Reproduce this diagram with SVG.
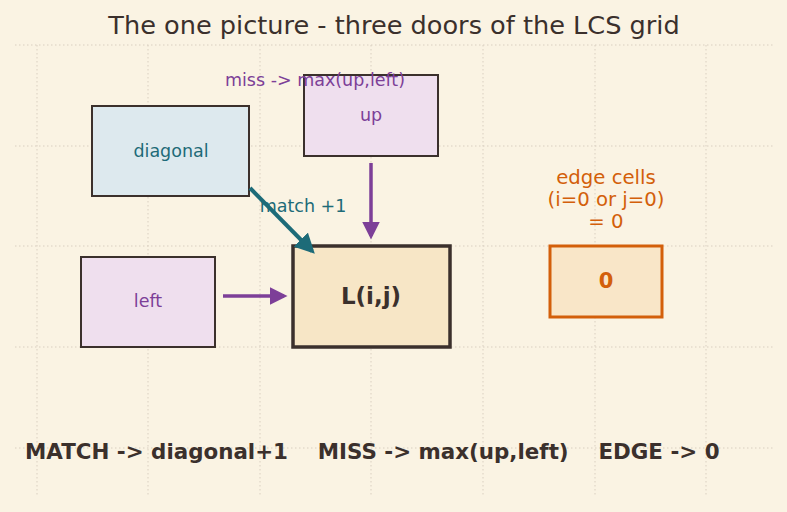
<svg xmlns="http://www.w3.org/2000/svg" width="787" height="512" viewBox="0 0 787 512">
<style>
text{font-family:"DejaVu Sans",sans-serif}
.grid line{stroke:#d9cfc0;stroke-width:1;stroke-dasharray:1.5 2.5}
.node rect{stroke:#3b302c;stroke-width:2}
.lbl{font-size:17.5px;text-anchor:middle}
</style>
<defs>
<marker id="ah-t" viewBox="0 0 10 10" refX="8" refY="5" markerWidth="5" markerHeight="5" orient="auto" markerUnits="strokeWidth"><path d="M0,0 L10,5 L0,10 z" fill="#1d6b78"/></marker>
<marker id="ah-p" viewBox="0 0 10 10" refX="8" refY="5" markerWidth="5" markerHeight="5" orient="auto" markerUnits="strokeWidth"><path d="M0,0 L10,5 L0,10 z" fill="#7d3f98"/></marker>
</defs>
<rect width="787" height="512" fill="#faf3e3"/>
<g class="grid">
<line x1="15" y1="45" x2="773" y2="45"/><line x1="15" y1="146" x2="773" y2="146"/><line x1="15" y1="246" x2="773" y2="246"/><line x1="15" y1="347" x2="773" y2="347"/><line x1="15" y1="448" x2="773" y2="448"/>
<line x1="37" y1="45" x2="37" y2="497"/><line x1="148" y1="45" x2="148" y2="497"/><line x1="260" y1="45" x2="260" y2="497"/><line x1="371" y1="45" x2="371" y2="497"/><line x1="483" y1="45" x2="483" y2="497"/><line x1="595" y1="45" x2="595" y2="497"/><line x1="706" y1="45" x2="706" y2="497"/>
</g>
<text x="394" y="34" font-size="25.6" text-anchor="middle" fill="#3b302c">The one picture - three doors of the LCS grid</text>
<g id="diagonal" class="node"><rect x="92" y="106" width="157" height="90" fill="#dde9ee"/><text class="lbl" x="171" y="157" fill="#1d6b78">diagonal</text></g>
<g id="up" class="node"><rect x="304" y="75" width="134" height="81" fill="#efdfee"/><text class="lbl" x="371" y="121" fill="#7d3f98">up</text></g>
<g id="left" class="node"><rect x="81" y="257" width="134" height="90" fill="#efdfee"/><text class="lbl" x="148" y="307" fill="#7d3f98">left</text></g>
<g id="lij" class="node"><rect x="293" y="246" width="157" height="101" fill="#f7e6c6" style="stroke-width:3.5"/><text x="371" y="304" font-size="23" font-weight="bold" text-anchor="middle" fill="#3b302c">L(i,j)</text></g>
<g id="edge" class="node"><rect x="550" y="246" width="112" height="71" fill="#f9e6c8" style="stroke:#d35f0a;stroke-width:3"/><text x="606" y="288" font-size="21" font-weight="bold" text-anchor="middle" fill="#d35f0a">0</text></g>
<g id="connectors" stroke-width="3.5" fill="none">
<line x1="250" y1="188" x2="312" y2="251" stroke="#1d6b78" stroke-width="4" marker-end="url(#ah-t)"/>
<line x1="371" y1="163" x2="371" y2="236" stroke="#7d3f98" marker-end="url(#ah-p)"/>
<line x1="223" y1="296" x2="284" y2="296" stroke="#7d3f98" marker-end="url(#ah-p)"/>
</g>
<text x="315" y="86" font-size="17.5" text-anchor="middle" fill="#7d3f98">miss -&gt; max(up,left)</text>
<text x="303" y="212" font-size="17.5" text-anchor="middle" fill="#1d6b78">match +1</text>
<g font-size="19.7" text-anchor="middle" fill="#d35f0a">
<text x="606" y="184">edge cells</text>
<text x="606" y="206">(i=0 or j=0)</text>
<text x="606" y="228">= 0</text>
</g>
<text x="25" y="459" font-size="21.4" font-weight="bold" fill="#3b302c" xml:space="preserve">MATCH -&gt; diagonal+1    MISS -&gt; max(up,left)    EDGE -&gt; 0</text>
</svg>
